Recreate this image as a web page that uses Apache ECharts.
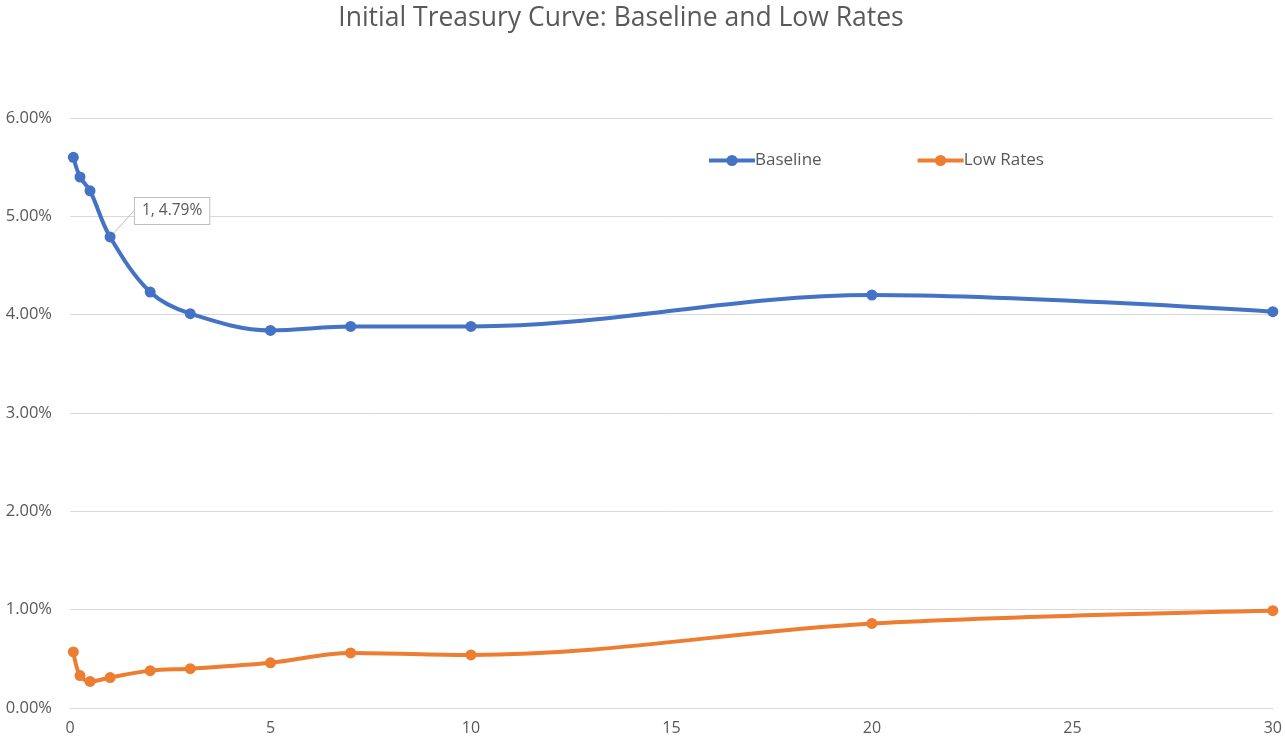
<!DOCTYPE html>
<html>
<head>
<meta charset="utf-8">
<script src="https://cdn.jsdelivr.net/npm/echarts@6/dist/echarts.min.js"></script>
<style>html,body{margin:0;padding:0;background:#fff}#c{width:1285px;height:744px}</style>
</head>
<body>
<div id="c"></div>
<script>
const maturities = [0.0833, 0.25, 0.5, 1, 2, 3, 5, 7, 10, 20, 30];
const baseline = [5.60, 5.40, 5.26, 4.79, 4.23, 4.01, 3.84, 3.88, 3.88, 4.20, 4.03];
const lowRates = [0.57, 0.33, 0.27, 0.31, 0.38, 0.40, 0.46, 0.56, 0.54, 0.86, 0.99];
const yTicks = [0, 1, 2, 3, 4, 5, 6];
const xTicks = [0, 5, 10, 15, 20, 25, 30];
const labelIndex = 3;

const font = 'Open Sans';
const grey = '#595959';

function pairs(vals) {
  return maturities.map((m, i) => [m, vals[i]]);
}
const baseData = pairs(baseline).map((p, i) => {
  if (i !== labelIndex) return p;
  return {
    value: p,
    label: {
      show: true,
      position: 'inside',
      formatter: p[0] + ', ' + p[1].toFixed(2) + '%',
      color: grey,
      fontFamily: font,
      fontSize: 15.5,
      backgroundColor: '#fff',
      borderColor: '#bfbfbf',
      borderWidth: 1,
      padding: [5, 7, 5, 7]
    },
    labelLine: { show: true, lineStyle: { color: '#bfbfbf', width: 1 } }
  };
});

const chart = echarts.init(document.getElementById('c'));
chart.setOption({
  backgroundColor: '#fff',
  animation: false,
  title: {
    text: 'Initial Treasury Curve: Baseline and Low Rates',
    left: 616, top: 0, textAlign: 'center',
    textStyle: { fontFamily: font, fontSize: 26.5, fontWeight: 'normal', color: grey }
  },
  legend: {
    top: 147, left: 702, itemWidth: 46, itemHeight: 14, itemGap: 94,
    lineStyle: { width: 4 },
    textStyle: { fontFamily: font, fontSize: 17, color: grey, padding: [0, 0, 0, -5] },
    data: ['Baseline', 'Low Rates']
  },
  grid: { left: 70, right: 11, top: 118, bottom: 36, containLabel: false },
  xAxis: {
    type: 'value', min: xTicks[0], max: xTicks[xTicks.length - 1], interval: 5,
    axisLine: { show: true, lineStyle: { color: '#d9d9d9', width: 1 } },
    axisTick: { show: false },
    splitLine: { show: false },
    axisLabel: { fontFamily: font, fontSize: 16, color: grey, margin: 12 }
  },
  yAxis: {
    type: 'value', min: yTicks[0], max: yTicks[yTicks.length - 1], interval: 1,
    axisLine: { show: false }, axisTick: { show: false },
    splitLine: { lineStyle: { color: '#d9d9d9', width: 1 } },
    axisLabel: { fontFamily: font, fontSize: 16.5, color: grey, margin: 18,
      formatter: v => v.toFixed(2) + '%' }
  },
  series: [
    {
      name: 'Baseline', type: 'line', data: baseData, smooth: 0.35,
      symbol: 'circle', symbolSize: 11,
      lineStyle: { width: 4, color: '#4472C4' },
      itemStyle: { color: '#4472C4' },
      labelLayout: p => p.dataIndex === labelIndex ? { dx: 62, dy: -26 } : {}
    },
    {
      name: 'Low Rates', type: 'line', data: pairs(lowRates), smooth: 0.35,
      symbol: 'circle', symbolSize: 11,
      lineStyle: { width: 4, color: '#ED7D31' },
      itemStyle: { color: '#ED7D31' }
    }
  ]
});
</script>
</body>
</html>
